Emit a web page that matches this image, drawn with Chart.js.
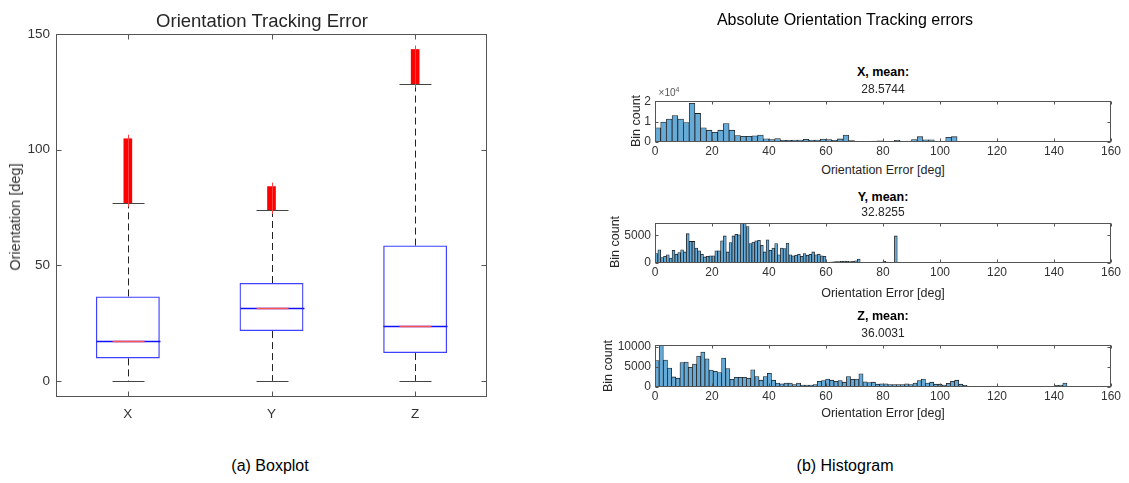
<!DOCTYPE html>
<html>
<head>
<meta charset="utf-8">
<script src="https://cdn.jsdelivr.net/npm/chart.js@4"></script>
<style>
  body { margin: 0; background: #fff; width: 1129px; height: 483px; position: relative; overflow: hidden;
         font-family: "Liberation Sans", Arial, sans-serif; color: #262626; }
  canvas { position: absolute; }
  .t { position: absolute; transform: translate(-50%, -50%); white-space: nowrap; font-weight: 400; }
  .rot { transform: translate(-50%, -50%) rotate(-90deg); }
  .ht { font-size: 12.5px; font-weight: bold; color: #000; }
  .hm { font-size: 12px; }
  .hl { font-size: 12.5px; }
</style>
</head>
<body>
<canvas id="boxChart" width="500" height="430" style="left:0;top:0"></canvas>
<canvas id="histX" width="569" height="72" style="left:560px;top:90px"></canvas>
<canvas id="histY" width="569" height="71" style="left:560px;top:212px"></canvas>
<canvas id="histZ" width="569" height="73" style="left:560px;top:334px"></canvas>

<div class="t" style="left:262px;top:21px;font-size:18.5px">Orientation Tracking Error</div>
<div class="t rot" style="left:15px;top:217px;font-size:14.5px;color:#333">Orientation [deg]</div>
<div class="t" style="left:270px;top:466px;font-size:16px;color:#000">(a) Boxplot</div>

<div class="t" style="left:845px;top:20px;font-size:16px;color:#000">Absolute Orientation Tracking errors</div>
<div class="t" style="left:845px;top:466px;font-size:16px;color:#000">(b) Histogram</div>

<div class="t ht" style="left:883px;top:72px">X, mean:</div>
<div class="t hm" style="left:883px;top:89px">28.5744</div>
<div class="t" style="left:669px;top:92px;font-size:10px;color:#555">&times;10<sup style="font-size:7px">4</sup></div>
<div class="t rot hl" style="left:636px;top:121px">Bin count</div>
<div class="t hl" style="left:883px;top:170px">Orientation Error [deg]</div>

<div class="t ht" style="left:883px;top:197px">Y, mean:</div>
<div class="t hm" style="left:883px;top:212px">32.8255</div>
<div class="t rot hl" style="left:615px;top:242px">Bin count</div>
<div class="t hl" style="left:883px;top:293px">Orientation Error [deg]</div>

<div class="t ht" style="left:883px;top:316px">Z, mean:</div>
<div class="t hm" style="left:883px;top:333px">36.0031</div>
<div class="t rot hl" style="left:608px;top:366px">Bin count</div>
<div class="t hl" style="left:883px;top:413px">Orientation Error [deg]</div>

<script>
// boxplot (a)
const boxCats = ['X', 'Y', 'Z'];
const boxQ1 = [9.7, 21.5, 12.0];
const boxMedian = [17.1, 31.3, 23.8];
const boxQ3 = [36.5, 42.3, 58.5];
const whiskerLow = [0, 0, 0];
const whiskerHigh = [77.0, 73.9, 128.5];
const outlierLow = [77.0, 73.9, 128.5];
const outlierHigh = [104.7, 84.0, 143.3];
const boxYTicks = [0, 50, 100, 150];

// histograms (b)
const histXTicks = [0, 20, 40, 60, 80, 100, 120, 140, 160];
const xBinWidth = 2;
const xCounts = [7000, 9800, 11200, 13000, 11200, 9500, 19000, 14000, 7000, 5800,
  4800, 5800, 9000, 5800, 3200, 2800, 2800, 3000, 3400, 1600,
  1200, 1700, 800, 800, 1000, 1000, 1300, 1000, 1000, 1400,
  1200, 800, 1500, 3400, 700, 0, 150, 200, 500, 600,
  300, 300, 800, 300, 500, 1200, 2600, 1100, 1100, 200,
  300, 2300, 2600];
const yBinWidth = 1;
const yCounts = [1700, 2400, 1000, 1200, 1500, 900, 2300, 1600, 1900, 2400,
  2000, 5300, 3900, 3900, 2700, 2200, 1600, 1100, 1200, 1300,
  1300, 2200, 2200, 4000, 4900, 2000, 3700, 4900, 5200, 5100,
  7800, 8000, 6600, 3500, 3800, 4000, 4100, 3200, 2000, 4200,
  2300, 2700, 3500, 1500, 2700, 2600, 3600, 1500, 1300, 1400,
  1600, 1200, 1700, 1400, 1600, 2000, 1500, 1600, 1300, 1200,
  100, 150, 200, 250, 250, 300, 350, 300, 250, 300,
  400, 700, 0, 0, 0, 0, 0, 0, 0, 0,
  300, 150, 100, 100, 4900];
const zBinWidth = 1.46;
const zCounts = [6600, 10600, 6700, 4700, 2500, 2200, 6100, 6200, 4900, 5700,
  7700, 8700, 7000, 4200, 3900, 3600, 7200, 4600, 1900, 2400,
  2400, 2400, 2200, 4300, 2600, 1700, 2600, 3400, 1700, 1000,
  800, 1000, 1000, 600, 1000, 500, 500, 500, 600, 1400,
  1600, 2000, 1700, 1400, 1600, 1200, 2600, 1900, 2000, 3300,
  1300, 1100, 1200, 700, 800, 800, 600, 600, 600, 600,
  800, 600, 1000, 1600, 2000, 1000, 1200, 700, 700, 500,
  900, 1400, 1700, 700, 400, 0, 0, 0, 0, 0,
  0, 0, 0, 0, 0, 0, 0, 0, 0, 0,
  0, 0, 0, 0, 0, 100, 400, 500, 1000];
const xHistYTicks = [0, 10000, 20000];
const yHistYTicks = [0, 5000];
const zHistYTicks = [0, 5000, 10000];

const FONT = '"Liberation Sans", Arial, sans-serif';
const TICK_COLOR = '#333';

// MATLAB-like box around the axes with inward ticks
const framePlugin = {
  id: 'frame',
  afterDatasetsDraw(chart, args, opts) {
    const { ctx, chartArea: a, scales } = chart;
    const len = opts.tick || 4;
    const L = Math.round(a.left) + 0.5, R = Math.round(a.right) - 0.5;
    const T = Math.round(a.top) + 0.5, B = Math.round(a.bottom) - 0.5;
    ctx.save();
    ctx.strokeStyle = '#555';
    ctx.lineWidth = 1;
    ctx.beginPath();
    scales.x.ticks.forEach((t, i) => {
      const px = Math.round(scales.x.getPixelForTick(i)) + 0.5;
      ctx.moveTo(px, B); ctx.lineTo(px, B - len);
      ctx.moveTo(px, T); ctx.lineTo(px, T + len);
    });
    scales.y.ticks.forEach((t, i) => {
      const py = Math.round(scales.y.getPixelForTick(i)) + 0.5;
      ctx.moveTo(L, py); ctx.lineTo(L + len, py);
      ctx.moveTo(R, py); ctx.lineTo(R - len, py);
    });
    ctx.stroke();
    ctx.strokeRect(L, T, R - L, B - T);
    ctx.restore();
  }
};

// whiskers, caps, medians and outlier marker stems
const boxPartsPlugin = {
  id: 'boxParts',
  afterDatasetsDraw(chart) {
    const { ctx } = chart;
    const y = chart.scales.y;
    const meta = chart.getDatasetMeta(0);
    const line = (x1, y1, x2, y2) => { ctx.beginPath(); ctx.moveTo(x1, y1); ctx.lineTo(x2, y2); ctx.stroke(); };
    ctx.save();
    ctx.lineWidth = 1;
    meta.data.forEach((bar, i) => {
      const cx = Math.round(bar.x) + 0.5;
      const half = bar.width / 2, cap = bar.width / 4;
      ctx.strokeStyle = '#222';
      ctx.setLineDash([7, 4]);
      line(cx, y.getPixelForValue(boxQ3[i]), cx, y.getPixelForValue(whiskerHigh[i]));
      line(cx, y.getPixelForValue(boxQ1[i]), cx, y.getPixelForValue(whiskerLow[i]));
      ctx.setLineDash([]);
      ctx.strokeStyle = '#444';
      const yh = Math.round(y.getPixelForValue(whiskerHigh[i])) + 0.5;
      const yl = Math.round(y.getPixelForValue(whiskerLow[i])) + 0.5;
      line(cx - cap, yh, cx + cap, yh);
      line(cx - cap, yl, cx + cap, yl);
      const ym = Math.round(y.getPixelForValue(boxMedian[i])) + 0.5;
      ctx.strokeStyle = '#1010ff';
      ctx.lineWidth = 1.5;
      line(cx - half, ym, cx + half, ym);
      ctx.strokeStyle = '#ff5050';
      line(cx - cap, ym, cx + cap, ym);
      ctx.lineWidth = 1;
      ctx.strokeStyle = '#ff4040';
      line(cx, y.getPixelForValue(outlierLow[i]) + 4, cx, y.getPixelForValue(outlierHigh[i]) - 4);
    });
    ctx.restore();
  }
};

new Chart(document.getElementById('boxChart'), {
  type: 'bar',
  data: {
    labels: boxCats,
    datasets: [
      {
        data: boxCats.map((c, i) => [boxQ1[i], boxQ3[i]]),
        backgroundColor: 'rgba(0,0,0,0)',
        borderColor: '#4040ff',
        borderWidth: 1.3,
        borderSkipped: false,
        barPercentage: 0.445,
        categoryPercentage: 1,
        grouped: false
      },
      {
        data: boxCats.map((c, i) => [outlierLow[i], outlierHigh[i]]),
        backgroundColor: '#ff0000',
        borderWidth: 0,
        barThickness: 8,
        grouped: false
      }
    ]
  },
  options: {
    responsive: false,
    animation: false,
    layout: { padding: { top: 34, right: 13, left: 0, bottom: 0 } },
    plugins: { legend: { display: false }, tooltip: { enabled: false }, frame: { tick: 5 } },
    scales: {
      x: {
        grid: { display: false, drawTicks: false },
        border: { display: false },
        afterFit: s => { s.height = 33; },
        ticks: { color: TICK_COLOR, font: { family: FONT, size: 13.5 }, padding: 9 }
      },
      y: {
        min: -7, max: 150,
        grid: { display: false, drawTicks: false },
        border: { display: false },
        afterBuildTicks: s => { s.ticks = boxYTicks.map(v => ({ value: v })); },
        afterFit: s => { s.width = 56; },
        ticks: { color: TICK_COLOR, font: { family: FONT, size: 13.5 }, padding: 6 }
      }
    }
  },
  plugins: [framePlugin, boxPartsPlugin]
});

function makeHist(id, counts, binWidth, yTicks, yMax, labelFn) {
  return new Chart(document.getElementById(id), {
    type: 'bar',
    data: {
      datasets: [{
        data: counts.map((c, i) => ({ x: (i + 0.5) * binWidth, y: c })),
        backgroundColor: 'rgb(102,170,215)',
        borderColor: '#1f1f1f',
        borderWidth: 0.8,
        borderSkipped: false,
        barPercentage: 1,
        categoryPercentage: 1
      }]
    },
    options: {
      responsive: false,
      animation: false,
      layout: { padding: { top: 10, right: 18, left: 0, bottom: 0 } },
      plugins: { legend: { display: false }, tooltip: { enabled: false }, frame: { tick: 3 } },
      scales: {
        x: {
          type: 'linear', min: 0, max: 160, offset: false,
          grid: { display: false, drawTicks: false, offset: false },
          border: { display: false },
          afterBuildTicks: s => { s.ticks = histXTicks.map(v => ({ value: v })); },
          afterFit: s => { s.height = 20; },
          ticks: { color: TICK_COLOR, font: { family: FONT, size: 12 }, padding: 2, autoSkip: false, maxRotation: 0 }
        },
        y: {
          min: 0, max: yMax,
          grid: { display: false, drawTicks: false },
          border: { display: false },
          afterBuildTicks: s => { s.ticks = yTicks.map(v => ({ value: v })); },
          afterFit: s => { s.width = 95; },
          ticks: { color: TICK_COLOR, font: { family: FONT, size: 12 }, padding: 4, callback: labelFn }
        }
      }
    },
    plugins: [framePlugin]
  });
}

makeHist('histX', xCounts, xBinWidth, xHistYTicks, 20000, v => v / 10000);
makeHist('histY', yCounts, yBinWidth, yHistYTicks, 7200, v => v);
makeHist('histZ', zCounts, zBinWidth, zHistYTicks, 10400, v => v);
</script>
</body>
</html>
